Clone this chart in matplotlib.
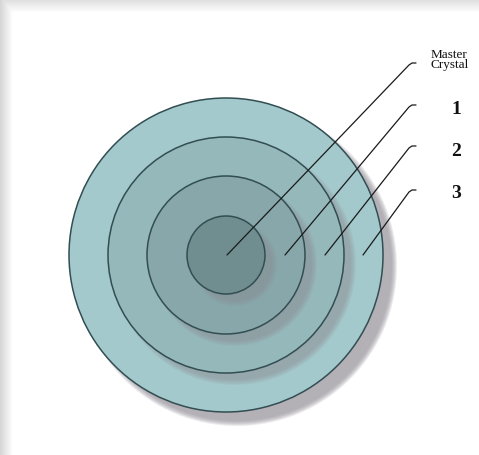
import numpy as np
import matplotlib
matplotlib.use("Agg")
import matplotlib.pyplot as plt
from matplotlib.patches import Circle

# layers of the crystal, outer to inner
radii = [157, 118, 79, 39]
fills = ['#a3c9cc', '#95b8bb', '#87a7aa', '#708e90']

# labels and where their leader lines start (x on the centre line)
labels = ['Master\nCrystal', '1', '2', '3']
line_x0 = [227, 285, 325, 363]
line_top = [65, 107, 148, 192]
label_y = [60, 110, 151, 194]

W, H = 479, 455
cx, cy = 226, 255

fig = plt.figure(figsize=(W / 100, H / 100), dpi=100)
ax = fig.add_axes([0, 0, 1, 1])
ax.set_xlim(0, W)
ax.set_ylim(H, 0)
ax.set_aspect('equal')
ax.axis('off')

# card with a soft grey border at top and left
bg = np.ones((H, W, 3))
for i in range(12):
    v = 0.84 + 0.013 * i
    bg[i, :, :] = np.minimum(bg[i, :, :], 0.88 + 0.01 * i)
    bg[:, i, :] = np.minimum(bg[:, i, :], v)
ax.imshow(bg, extent=[0, W, H, 0], zorder=0)

# shadows + discs
for k, (r, c) in enumerate(zip(radii, fills)):
    off = 11 if k == 0 else 9
    for j in range(6):
        ax.add_patch(Circle((cx + off, cy + off), r + 3 - j,
                            facecolor='#8f8c95', edgecolor='none',
                            alpha=0.17 if k == 0 else 0.11, zorder=2 + 2 * k))
    ax.add_patch(Circle((cx, cy), r, facecolor=c, edgecolor='#324e52',
                        linewidth=1.1, zorder=3 + 2 * k))

# leader lines with a small hook at the top
for x0, yt in zip(line_x0, line_top):
    ax.plot([x0, 409, 412, 416], [cy, yt, yt - 2, yt - 2], color='#1a1a1a',
            linewidth=0.9, zorder=20, solid_capstyle='round')

for lab, y in zip(labels, label_y):
    if '\n' in lab:
        ax.text(431, y, lab, fontsize=9.5, family='Liberation Serif',
                ha='left', va='center', linespacing=0.8, color='#111111',
                zorder=21)
    else:
        ax.text(456, y, lab, fontsize=14, family='Liberation Serif',
                fontweight='bold', ha='center', va='center', color='#111111',
                zorder=21)

fig.savefig('out.png', dpi=100)
